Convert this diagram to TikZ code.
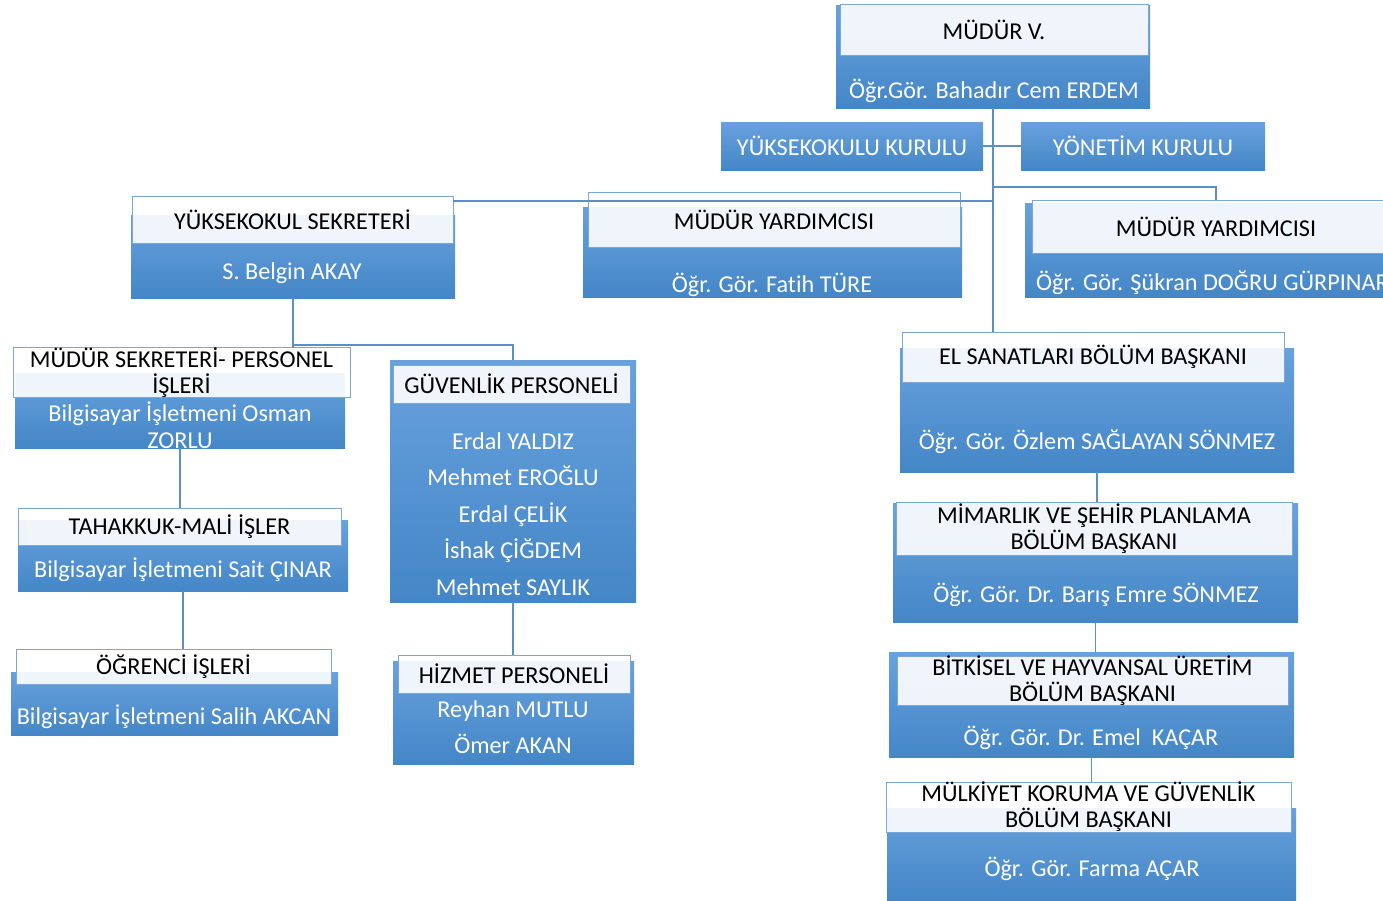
\documentclass[tikz,border=0pt]{standalone}
\usepackage{fontspec}
\setmainfont{Carlito}[Ligatures=NoCommon]
\usepackage{xcolor}
\usepackage{tikz}
\definecolor{boxtop}{RGB}{104,161,222}
\definecolor{boxbot}{RGB}{68,134,198}
\definecolor{bandline}{RGB}{122,166,216}
\definecolor{linkcol}{RGB}{92,142,200}
\tikzstyle{bgbox}=[rectangle,top color=boxtop,bottom color=boxbot,draw=none,inner sep=0pt,outer sep=0pt]
\tikzstyle{band}=[rectangle,draw=bandline,line width=0.9pt,fill=white,fill opacity=0.9,text opacity=1,inner sep=0pt,outer sep=0pt,align=center,font=\fontsize{24.2}{26}\selectfont]
\tikzstyle{who}=[text=white,align=center,inner sep=0pt,font=\fontsize{24.2}{27}\selectfont]
\tikzstyle{link}=[draw=linkcol,line width=1.3pt]

\begin{document}
\begin{tikzpicture}[x=1pt,y=-1pt]
        \useasboundingbox (0,0) rectangle (1383,900);
        % top
        \node at ( 993, 56.5) [bgbox,minimum width=314pt,minimum height=103pt] (mv) {};
        \node at ( 994, 30) [band,minimum width=308pt,minimum height=51pt] (mvt) {MÜDÜR V.};
        \node at ( 994, 91) [who] (mvn) {Öğr.Gör. Bahadır Cem ERDEM};
        \node at ( 852,146) [bgbox,minimum width=262pt,minimum height=48pt,text=white,font=\fontsize{24.2}{26}\selectfont] (yk) {YÜKSEKOKULU KURULU};
        \node at (1143,146) [bgbox,minimum width=244pt,minimum height=48pt,text=white,font=\fontsize{24.2}{26}\selectfont] (yn) {YÖNETİM KURULU};
        % second row
        \node at ( 293,256.5) [bgbox,minimum width=324pt,minimum height=83pt] (ys) {};
        \node at (292.5,219.5) [band,minimum width=321pt,minimum height=47pt] (yst) {YÜKSEKOKUL SEKRETERİ};
        \node at ( 292,273) [who] (ysn) {S. Belgin AKAY};
        \node at (772.5,252) [bgbox,minimum width=379pt,minimum height=90pt] (my1) {};
        \node at ( 774,219.5) [band,minimum width=372pt,minimum height=55pt] (my1t) {MÜDÜR YARDIMCISI};
        \node at ( 772,285) [who] (my1n) {Öğr. Gör. Fatih TÜRE};
        \node at (1212.5,250) [bgbox,minimum width=375pt,minimum height=94pt] (my2) {};
        \node at (1216,226.5) [band,minimum width=368pt,minimum height=53pt] (my2t) {MÜDÜR YARDIMCISI};
        \node at (1036,283) [who,anchor=west] (my2n) {Öğr. Gör. Şükran DOĞRU GÜRPINAR};
        % left column
        \node at ( 180,410.5) [bgbox,minimum width=330pt,minimum height=75pt] (ms) {};
        \node at (181.5,372.5) [band,minimum width=337pt,minimum height=49pt] (mst) {MÜDÜR SEKRETERİ- PERSONEL\\İŞLERİ};
        \node at ( 180,425.5) [who] (msn) {Bilgisayar İşletmeni Osman\\ZORLU};
        \node at ( 183,555.5) [bgbox,minimum width=330pt,minimum height=71pt] (tk) {};
        \node at (179.5,526.5) [band,minimum width=323pt,minimum height=37pt] (tkt) {TAHAKKUK-MALİ İŞLER};
        \node at ( 183,570) [who] (tkn) {Bilgisayar İşletmeni Sait ÇINAR};
        \node at (174.5,703.5) [bgbox,minimum width=327pt,minimum height=63pt] (og) {};
        \node at (173.5,666.5) [band,minimum width=315pt,minimum height=35pt] (ogt) {ÖĞRENCİ İŞLERİ};
        \node at ( 174,717) [who] (ogn) {Bilgisayar İşletmeni Salih AKCAN};
        % middle column
        \node at ( 513,481) [bgbox,minimum width=246pt,minimum height=242pt] (gp) {};
        \node at (511.5,384) [band,minimum width=237pt,minimum height=38pt] (gpt) {GÜVENLİK PERSONELİ};
        \node at ( 513,514) [who,font=\fontsize{24.2}{36.5}\selectfont] (gpn) {Erdal YALDIZ\\Mehmet EROĞLU\\Erdal ÇELİK\\İshak ÇİĞDEM\\Mehmet SAYLIK};
        \node at (513.5,712.5) [bgbox,minimum width=241pt,minimum height=103pt] (hz) {};
        \node at ( 514,674) [band,minimum width=232pt,minimum height=38pt] (hzt) {HİZMET PERSONELİ};
        \node at ( 513,727) [who,font=\fontsize{24.2}{36}\selectfont] (hzn) {Reyhan MUTLU\\Ömer AKAN};
        % right column
        \node at (1097,410) [bgbox,minimum width=394pt,minimum height=124pt] (el) {};
        \node at (1093,357) [band,minimum width=382pt,minimum height=50pt] (elt) {EL SANATLARI BÖLÜM BAŞKANI};
        \node at (1097,442) [who] (eln) {Öğr. Gör. Özlem SAĞLAYAN SÖNMEZ};
        \node at (1095.5,563) [bgbox,minimum width=405pt,minimum height=119pt] (mm) {};
        \node at (1094,528.5) [band,minimum width=396pt,minimum height=53pt] (mmt) {MİMARLIK VE ŞEHİR PLANLAMA\\BÖLÜM BAŞKANI};
        \node at (1096,595) [who] (mmn) {Öğr. Gör. Dr. Barış Emre SÖNMEZ};
        \node at (1091.5,705) [bgbox,minimum width=405pt,minimum height=105pt] (bh) {};
        \node at (1092.5,681) [band,minimum width=391pt,minimum height=48pt] (bht) {BİTKİSEL VE HAYVANSAL ÜRETİM\\BÖLÜM BAŞKANI};
        \node at (1091,738) [who] (bhn) {Öğr. Gör. Dr. Emel\ \ KAÇAR};
        \node at (1091.5,854) [bgbox,minimum width=409pt,minimum height=92pt] (mk) {};
        \node at (1088.5,807) [band,minimum width=405pt,minimum height=50pt] (mkt) {MÜLKİYET KORUMA VE GÜVENLİK\\BÖLÜM BAŞKANI};
        \node at (1092,869) [who] (mkn) {Öğr. Gör. Farma AÇAR};
        % connectors
        \coordinate (j1) at (994,187);
        \coordinate (j2) at (994,201);
        \coordinate (j3) at (293,345);
        \draw [link] (mv.south) -- (mv.south |- elt.north);
        \draw [link] (yk.east) -- (yn.west);
        \draw [link] (j1) -| (my2t.north);
        \draw [link] (j2) -- (j2 -| yst.east);
        \draw [link] (ys.south) -- (ys.south |- mst.north);
        \draw [link] (j3) -| (gp.north);
        \draw [link] (ms.south) -- (ms.south |- tkt.north);
        \draw [link] (tk.south) -- (tk.south |- ogt.north);
        \draw [link] (gp.south) -- (gp.south |- hzt.north);
        \draw [link] (el.south) -- (el.south |- mmt.north);
        \draw [link] (mm.south) -- (mm.south |- bh.north);
        \draw [link] (bh.south) -- (bh.south |- mkt.north);
      \end{tikzpicture}
\end{document}
